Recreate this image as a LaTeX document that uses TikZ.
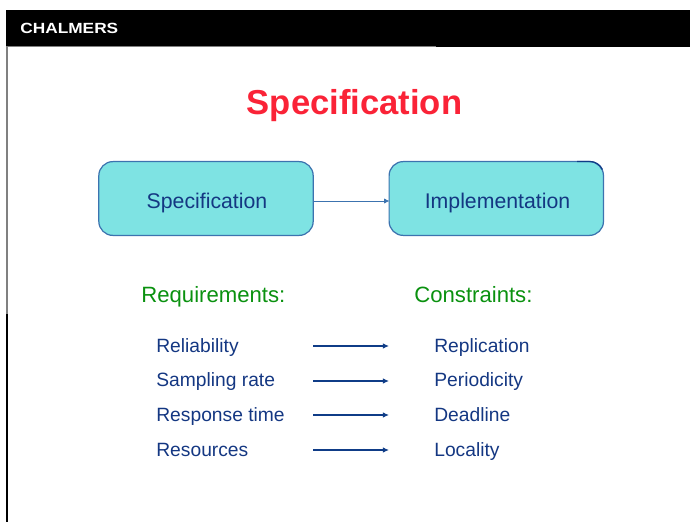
\documentclass[tikz,border=0pt]{standalone}
\usepackage{fontspec}
\setmainfont{Liberation Sans}
\usetikzlibrary{arrows.meta}
\definecolor{navytext}{RGB}{20,55,130}
\definecolor{arrowblue}{RGB}{15,60,135}
\definecolor{boxfill}{RGB}{126,227,227}
\definecolor{boxline}{RGB}{60,115,175}
\definecolor{greentext}{RGB}{10,145,15}
\definecolor{redtext}{RGB}{250,35,55}
\tikzset{
  blockbox/.style={shape=rectangle,rounded corners=8pt,draw=boxline,fill=boxfill,line width=0.7pt,minimum width=122pt,minimum height=42pt},
  blocktext/.style={anchor=base,inner sep=0pt,text=navytext,font=\fontsize{12.1}{14}\selectfont},
  headtext/.style={anchor=base west,inner sep=0pt,text=greentext,font=\fontsize{12.6}{15}\selectfont},
  itemtext/.style={anchor=base west,inner sep=0pt,text=navytext,font=\fontsize{10.95}{14}\selectfont},
  maparrow/.style={draw=arrowblue,line width=0.85pt,-{Latex[length=3.5pt,width=3.2pt]}},
  linkarrow/.style={draw=boxline,line width=0.5pt,-{Latex[length=3pt,width=3pt]}},
}
\begin{document}
\begin{tikzpicture}[x=0.02cm,y=-0.02cm]
        \useasboundingbox (0,0) rectangle (690,524);
        % slide frame
        \fill[black] (6,10) rectangle (690,46);
        \fill[black] (436,46) rectangle (690,47);
        \fill[gray] (6,46) rectangle (436,47);
        \fill[gray] (6,46) rectangle (7.5,314);
        \fill[black] (6,314) rectangle (8,522);
        \node[anchor=base west,inner sep=0pt,text=white,xscale=1.17,transform shape,font=\bfseries\fontsize{8.4}{10}\selectfont] (logo) at (20,33) {CHALMERS};
        \node[anchor=base,inner sep=0pt,text=redtext,font=\bfseries\fontsize{19.7}{23}\selectfont] (title) at (354.5,114.5) {Specification};

        \node[blockbox] (spec) at (206,198.5) {};
        \node[blockbox] (impl) at (496.3,198.5) {};
        \node[blocktext] (spectext) at (207,208.5) {Specification};
        \node[blocktext] (impltext) at (497.5,208.5) {Implementation};
        % darker bit of the box outline
        \draw[arrowblue,line width=0.7pt] (577,161.45) -- (589.7,161.45) arc[start angle=-90,end angle=-25,radius=14.1];

        \node[headtext] (req) at (141,302) {Requirements:};
        \node[headtext] (con) at (414,302) {Constraints:};

        \node[itemtext] (i1) at (156,352.5) {Reliability};
        \node[itemtext] (i2) at (156,386.5) {Sampling rate};
        \node[itemtext] (i3) at (156,421) {Response time};
        \node[itemtext] (i4) at (156,456) {Resources};
        \node[itemtext] (c1) at (434,352.5) {Replication};
        \node[itemtext] (c2) at (434,386.5) {Periodicity};
        \node[itemtext] (c3) at (434,421) {Deadline};
        \node[itemtext] (c4) at (434,456) {Locality};

        \coordinate (a1) at (313,346);
        \coordinate (a2) at (313,381);
        \coordinate (a3) at (313,415);
        \coordinate (a4) at (313,450);
        \coordinate (b1) at (389,346);
        \coordinate (b2) at (389,381);
        \coordinate (b3) at (389,415);
        \coordinate (b4) at (389,450);
        \coordinate (spece) at (314,201);
        \coordinate (impw) at (389.5,201);

        \path
        (a1) edge[maparrow] (b1)
        (a2) edge[maparrow] (b2)
        (a3) edge[maparrow] (b3)
        (a4) edge[maparrow] (b4)
        (spece) edge[linkarrow] (impw);
        \end{tikzpicture}
\end{document}
